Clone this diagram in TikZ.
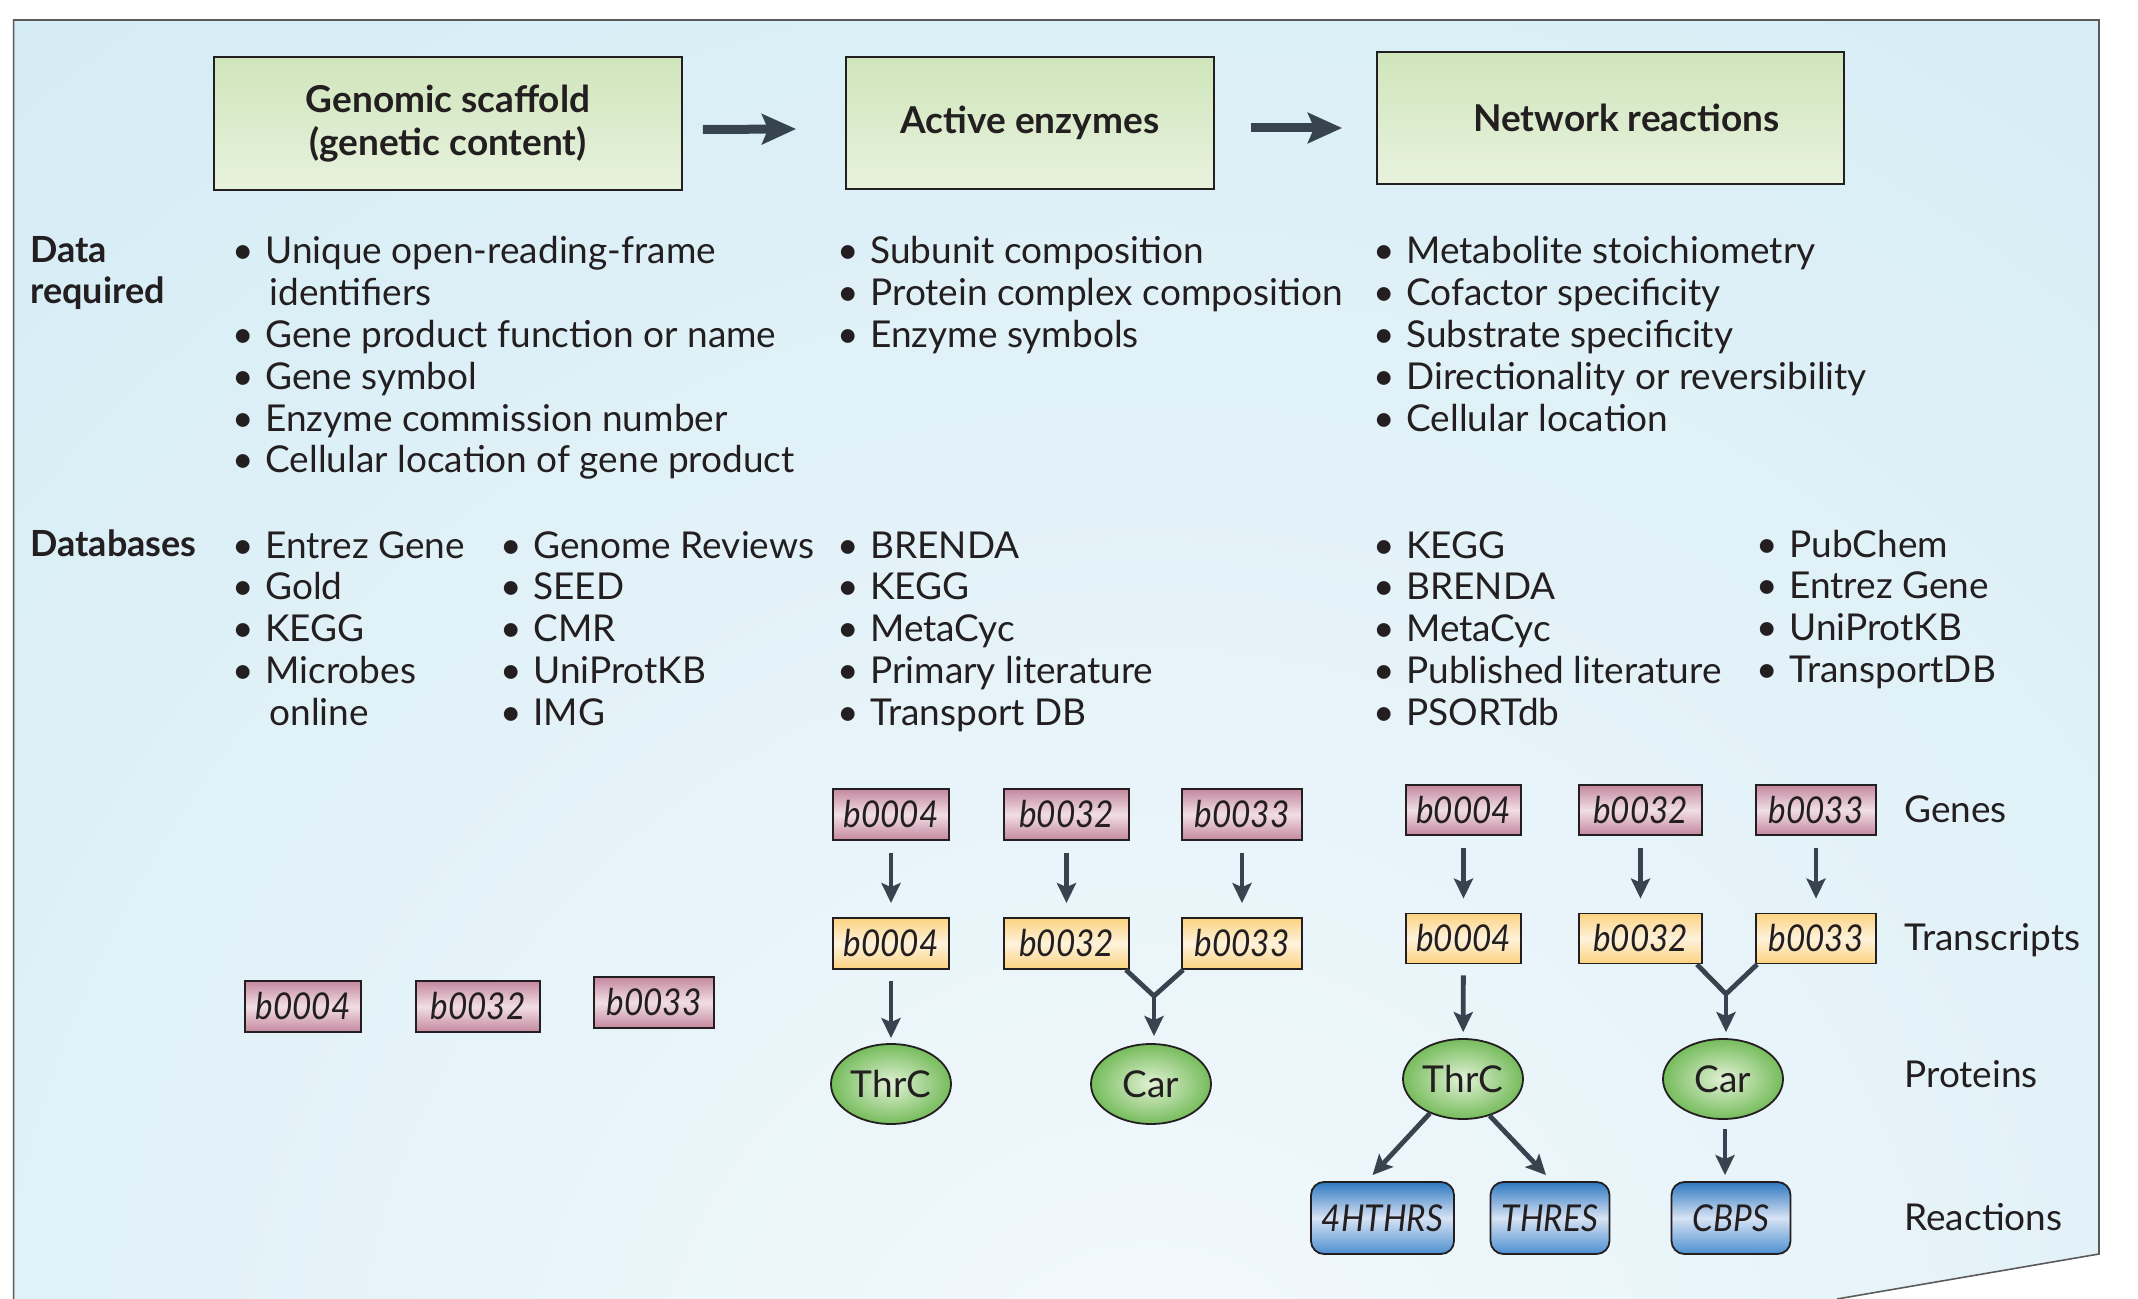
\documentclass[tikz,border=0pt]{standalone}
\usepackage{fontspec}
\setmainfont{Lato}[ItalicFeatures={FakeStretch=0.9}]
\usetikzlibrary{arrows.meta,shapes.geometric}
\definecolor{textc}{RGB}{35,31,32}
\definecolor{linec}{RGB}{35,31,32}
\definecolor{arrc}{RGB}{55,67,78}
\definecolor{framec}{RGB}{90,90,90}
\definecolor{bgout}{RGB}{196,229,241}
\definecolor{bgin}{RGB}{243,249,252}
\definecolor{boxa}{RGB}{207,229,187}
\definecolor{boxb}{RGB}{232,242,222}
\definecolor{genea}{RGB}{196,136,158}
\definecolor{geneb}{RGB}{241,222,229}
\definecolor{transa}{RGB}{252,210,128}
\definecolor{transb}{RGB}{254,243,220}
\definecolor{prota}{RGB}{118,188,92}
\definecolor{protb}{RGB}{226,242,214}
\definecolor{reacta}{RGB}{46,120,192}
\definecolor{reactb}{RGB}{215,227,244}
\definecolor{reactc}{RGB}{76,143,208}
\newcommand\bodyfont{\fontsize{18.5pt}{20.9pt}\selectfont}
\newcommand\bl{\makebox[16.5pt][l]{\textbullet}}
\begin{document}
\begin{tikzpicture}[x=0.5pt,y=-0.5pt,
  every node/.style={text=textc},
  titlebox/.style={draw=linec, line width=0.9pt, inner sep=0pt, top color=boxa, bottom color=boxb, font=\bfseries\fontsize{18.5pt}{21.5pt}\selectfont, align=center},
  lst/.style={inner sep=0pt, anchor=base west, align=left, font=\bodyfont},
  lbl/.style={inner sep=0pt, anchor=base west, align=left, font=\bfseries\fontsize{18pt}{20.9pt}\selectfont},
  side/.style={inner sep=0pt, anchor=base west, font=\bodyfont},
  gene/.style={draw=linec, line width=0.9pt, inner sep=0pt, minimum height=25.5pt, top color=genea, bottom color=genea, middle color=geneb, font=\bodyfont\itshape},
  trans/.style={draw=linec, line width=0.9pt, inner sep=0pt, minimum height=25.5pt, top color=transa, bottom color=transa, middle color=transb, font=\bodyfont\itshape},
  prot/.style={ellipse, draw=linec, line width=0.9pt, inner sep=0pt, minimum width=60pt, minimum height=40pt, inner color=protb, outer color=prota, font=\bodyfont},
  react/.style={draw=linec, line width=0.9pt, rounded corners=6.5pt, inner sep=0pt, minimum width=59.5pt, minimum height=36pt, top color=reacta, bottom color=reactc, middle color=reactb, font=\bodyfont\itshape},
  arr/.style={draw=arrc, line width=2.4pt, -{Stealth[length=10pt,width=9.5pt,inset=2pt]}},
  conn/.style={draw=arrc, line width=2.4pt},
  bigarr/.style={draw=arrc, line width=4.5pt, -{Stealth[length=17pt,width=15pt,inset=3pt]}}
]
\useasboundingbox (0,0) rectangle (2138,1299);
% background
\begin{scope}
\clip (13.6,20) -- (2099,20) -- (2099,1254) -- (1837,1299) -- (13.6,1299) -- cycle;
\fill[bgout] (0,0) rectangle (2138,1299);
\shade[inner color=bgin, outer color=bgout] (1150,1450) circle (1400pt);
\end{scope}
\draw[framec, line width=0.8pt] (13.6,1299) -- (13.6,20) -- (2099,20) -- (2099,1254) -- (1837,1299);

% title boxes
\node[titlebox, minimum width=234pt, minimum height=66.5pt] (box1) at (448,123.5) {Genomic scaffold\\(genetic content)};
\node[titlebox, minimum width=184pt, minimum height=66pt] (box2) at (1030,123) {Active enzymes};
\node[titlebox, minimum width=233.5pt, minimum height=66pt] (box3) at (1610.5,118) {\hspace*{16pt}Network reactions};
\draw[bigarr] ([xshift=10pt,yshift=-3pt]box1.east) -- ([xshift=-24.5pt,yshift=-3pt]box2.west);
\draw[bigarr] ([xshift=18pt,yshift=-2.5pt]box2.east) -- ([xshift=-17pt,yshift=-5pt]box3.west);

% row labels (anchor = baseline of last line)
\node[lbl] (ldata) at (30,304) {Data\\required};
\node[lbl] (ldb) at (30,557) {Databases};

% data required
\node[lst] (d1) at (232,473) {\bl Unique open-reading-frame\\\hspace*{18.5pt}identifiers\\\bl Gene product function or name\\\bl Gene symbol\\\bl Enzyme commission number\\\bl Cellular location of gene product};
\node[lst] (d2) at (837,347.6) {\bl Subunit composition\\\bl Protein complex composition\\\bl Enzyme symbols};
\node[lst] (d3) at (1373,431.2) {\bl Metabolite stoichiometry\\\bl Cofactor specificity\\\bl Substrate specificity\\\bl Directionality or reversibility\\\bl Cellular location};

% databases
\node[lst] (db1) at (232,725.2) {\bl Entrez Gene\\\bl Gold\\\bl KEGG\\\bl Microbes\\\hspace*{18.5pt}online};
\node[lst] (db2) at (500,725.2) {\bl Genome Reviews\\\bl SEED\\\bl CMR\\\bl UniProtKB\\\bl IMG};
\node[lst] (db3) at (837,725.2) {\bl BRENDA\\\bl KEGG\\\bl MetaCyc\\\bl Primary literature\\\bl Transport DB};
\node[lst] (db4) at (1373,725.2) {\bl KEGG\\\bl BRENDA\\\bl MetaCyc\\\bl Published literature\\\bl PSORTdb};
\node[lst] (db5) at (1756,682.4) {\bl PubChem\\\bl Entrez Gene\\\bl UniProtKB\\\bl TransportDB};

% left genes
\node[gene, minimum width=58pt] (gL4) at (303,1006.5) {b0004};
\node[gene, minimum width=62pt] (gL32) at (478,1006.5) {b0032};
\node[gene, minimum width=60pt] (gL33) at (654,1002.5) {b0033};

% middle panel
\node[gene, minimum width=58pt] (gM4) at (891,814.5) {b0004};
\node[gene, minimum width=62.5pt] (gM32) at (1066.5,814.5) {b0032};
\node[gene, minimum width=60pt] (gM33) at (1242,814.5) {b0033};
\node[trans, minimum width=58pt] (tM4) at (891,943.5) {b0004};
\node[trans, minimum width=62.5pt] (tM32) at (1066.5,943.5) {b0032};
\node[trans, minimum width=60pt] (tM33) at (1242,943.5) {b0033};
\node[prot] (pM1) at (891,1084) {ThrC};
\node[prot] (pM2) at (1151,1084) {Car};
\coordinate (jM) at (1154,996);
\draw[arr, shorten <=6pt, shorten >=7pt] (gM4) -- (tM4);
\draw[arr, shorten <=6pt, shorten >=7pt] (gM32) -- (tM32);
\draw[arr, shorten <=6pt, shorten >=7pt] (gM33) -- (tM33);
\draw[arr, shorten <=5.5pt, shorten >=2.5pt] (tM4) -- (pM1);
\draw[conn, line join=miter] ([xshift=-2pt]tM32.south east) -- (jM) -- ([xshift=1pt]tM33.south west);
\draw[arr, shorten >=3.5pt] (jM) -- (jM |- pM2.north);

% right panel
\node[gene, minimum width=57.5pt, minimum height=25pt] (gR4) at (1463.5,810) {b0004};
\node[gene, minimum width=61.5pt, minimum height=25pt] (gR32) at (1640.5,810) {b0032};
\node[gene, minimum width=60pt, minimum height=25pt] (gR33) at (1816,810) {b0033};
\node[trans, minimum width=57.5pt, minimum height=25pt] (tR4) at (1463.5,938.5) {b0004};
\node[trans, minimum width=61.5pt, minimum height=25pt] (tR32) at (1640.5,938.5) {b0032};
\node[trans, minimum width=60pt, minimum height=25pt] (tR33) at (1816,938.5) {b0033};
\node[prot] (pR1) at (1463,1079) {ThrC};
\node[prot] (pR2) at (1723,1079) {Car};
\coordinate (jR) at (1726,994);
\draw[arr, shorten <=6pt, shorten >=7pt] (gR4) -- (tR4);
\draw[arr, shorten <=6pt, shorten >=7pt] (gR32) -- (tR32);
\draw[arr, shorten <=6pt, shorten >=7pt] (gR33) -- (tR33);
\draw[arr, shorten <=5.5pt, shorten >=3pt] (tR4) -- (pR1);
\draw[conn, line join=miter] ([xshift=-3pt]tR32.south east) -- (jR) -- ([xshift=1pt]tR33.south west);
\draw[arr, shorten >=3pt] (jR) -- (jR |- pR2.north);

\node[react, minimum width=71.5pt] (r1) at (1382.5,1218) {4HTHRS};
\node[react] (r2) at (1550,1218) {THRES};
\node[react] (r3) at (1731,1218) {CBPS};
\draw[arr] (pR1.226) -- ([xshift=-5pt,yshift=3pt]r1.north);
\draw[arr] (pR1.306) -- ([xshift=-2pt,yshift=3pt]r2.north);
\draw[arr, shorten <=4.5pt, shorten >=3pt] ([xshift=1pt]pR2.south) -- ([xshift=1pt]pR2.south |- r3.north);

% side labels
\node[side] (sg) at (1904,822) {Genes};
\node[side] (st) at (1904,950) {Transcripts};
\node[side] (sp) at (1904,1087) {Proteins};
\node[side] (sr) at (1904,1230) {Reactions};
\end{tikzpicture}
\end{document}
